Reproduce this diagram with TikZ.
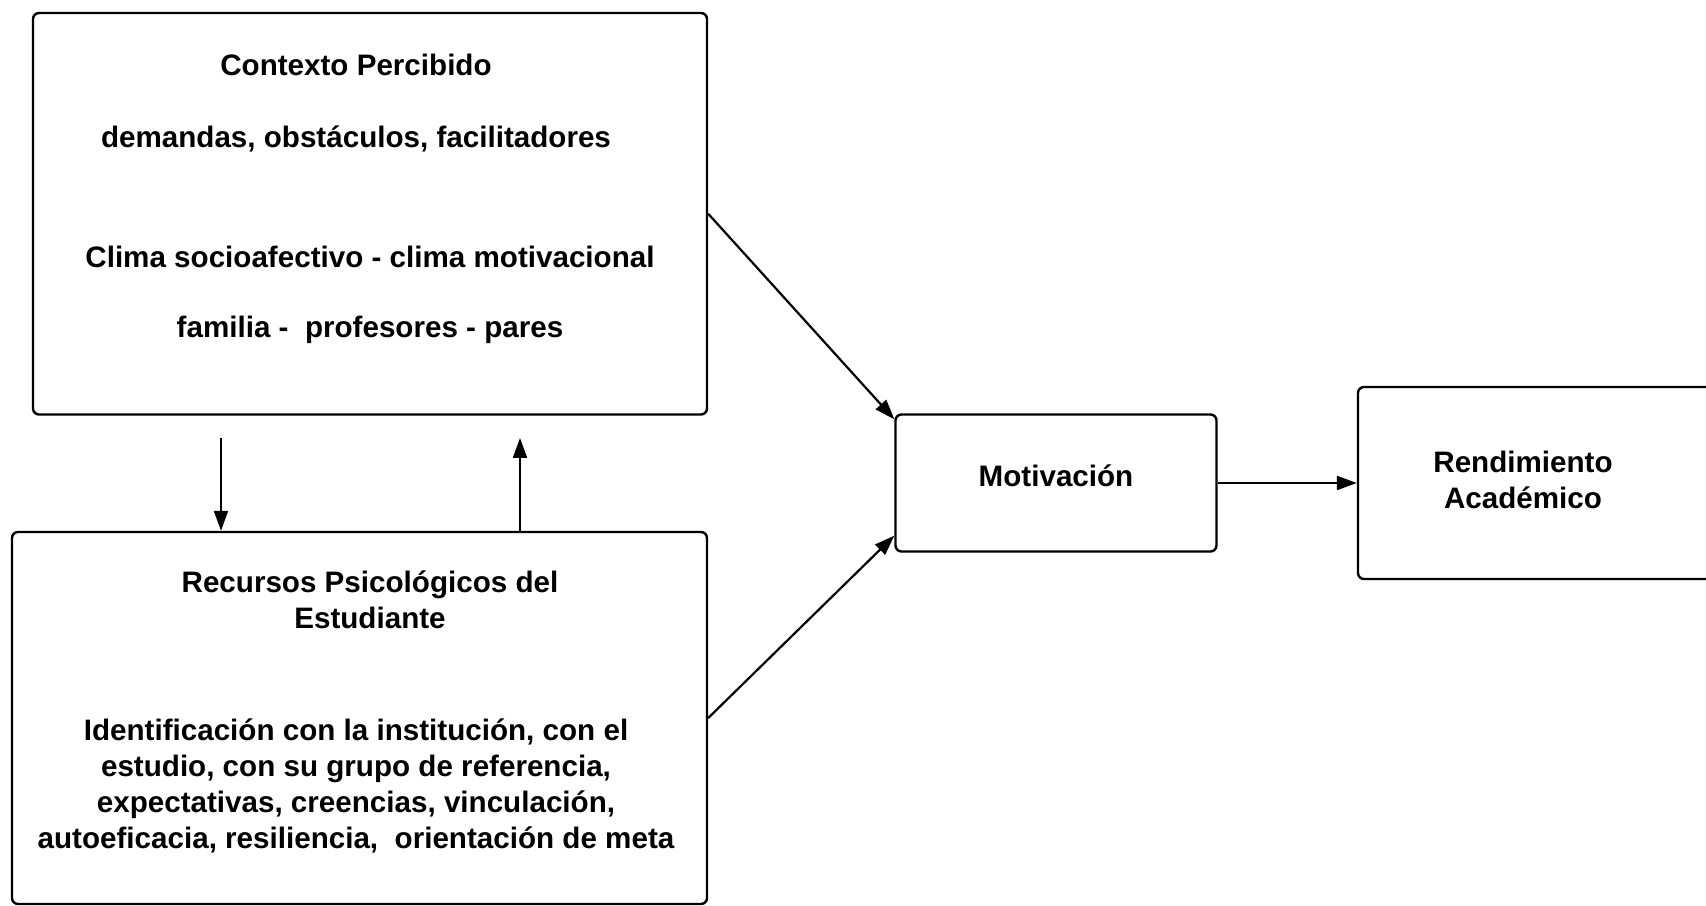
\documentclass[tikz,border=0pt]{standalone}
\usepackage{fontspec}
\setmainfont{Liberation Sans}
\usetikzlibrary{arrows.meta}
\begin{document}
\begin{tikzpicture}[x=0.5pt,y=0.5pt,
  box/.style={draw=black,line width=1.2pt,rounded corners=3pt,inner sep=0pt,fill=white},
  txt/.style={inner sep=0pt,align=center,font=\fontsize{14.8}{18}\selectfont\bfseries},
  conn/.style={line width=1.1pt,-{Triangle[length=10pt,width=7pt]}}]
\clip (0,0) rectangle (1706,905);
\fill[white] (0,0) rectangle (1706,905);
% boxes
\node[box,minimum width=674pt*0.5,minimum height=401.5pt*0.5] (b1) at (370,691.25) {};
\node[box,minimum width=695pt*0.5,minimum height=372pt*0.5] (b2) at (359.5,187) {};
\node[box,minimum width=321pt*0.5,minimum height=137pt*0.5] (mot) at (1056,422) {};
\node[box,minimum width=382pt*0.5,minimum height=192pt*0.5] (rend) at (1549,422) {};
% texts
\node[txt] (t1) at (356,840) {Contexto Percibido};
\node[txt] (t2) at (356,766) {demandas, obstáculos, facilitadores};
\node[txt] (t3) at (370,648) {Clima socioafectivo - clima motivacional};
\node[txt] (t4) at (370,575) {familia - \ profesores - pares};
\node[txt] (t5) at (370,305) {Recursos Psicológicos del\\Estudiante};
\node[txt] (t6) at (356,119) {Identificación con la institución, con el\\estudio, con su grupo de referencia,\\expectativas, creencias, vinculación,\\autoeficacia, resiliencia, \ orientación de meta};
\node[txt] (t7) at (1056,429.5) {Motivación};
\node[txt] (t8) at (1523,425.5) {Rendimiento\\Académico};
% free ends
\coordinate (d0) at (221,467);
\coordinate (u1) at (520,467);
% connectors
\draw[conn] (b1.east) -- ([yshift=-3pt]mot.north west);
\draw[conn] (b2.east) -- ([yshift=8.5pt]mot.south west);
\draw[conn] (mot.east) -- (rend.west);
\draw[conn] (d0) -- (d0 |- b2.north);
\draw[conn] (u1 |- b2.north) -- (u1);
\end{tikzpicture}
\end{document}
